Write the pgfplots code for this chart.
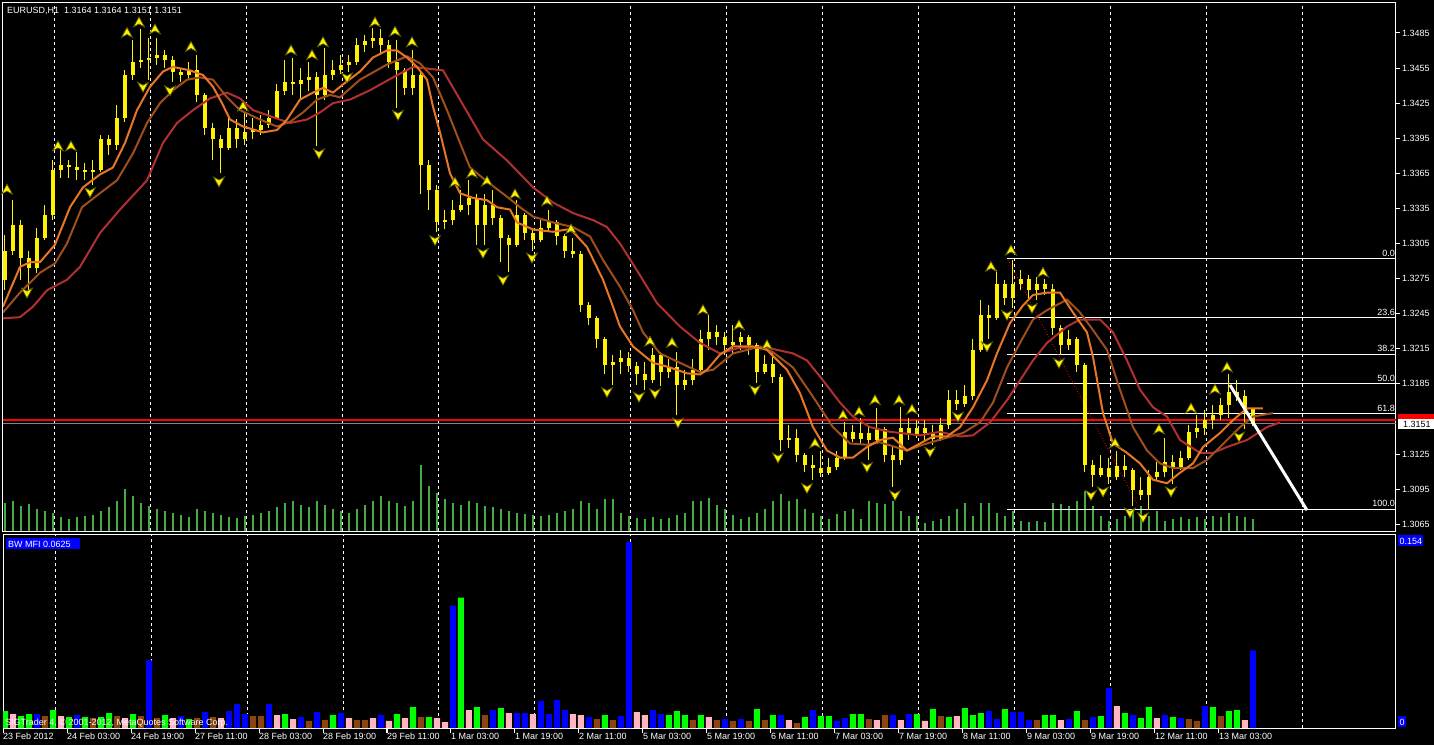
\documentclass[border=0pt]{standalone}
\usepackage{fontspec}
\setmainfont{Liberation Sans}
\usepackage{pgfplots}
\usepackage{pgfplotstable}
\pgfplotsset{compat=1.18}
\definecolor{maorange}{RGB}{232,118,38}
\definecolor{mabrown}{RGB}{160,78,28}
\definecolor{mared}{RGB}{178,48,48}
\definecolor{volgreen}{RGB}{70,170,70}
\definecolor{mfiblue}{RGB}{0,0,255}
\definecolor{mfigreen}{RGB}{0,255,0}
\definecolor{mfibrown}{RGB}{139,69,19}
\definecolor{mfipink}{RGB}{255,182,193}
\definecolor{bidgray}{RGB}{119,136,153}
\definecolor{fracedge}{RGB}{90,90,0}
\newcommand{\lbl}{\fontsize{9}{10}\selectfont}
\pgfdeclareplotmark{fup}{%
  \pgfpathmoveto{\pgfqpoint{0pt}{5.5pt}}%
  \pgfpathlineto{\pgfqpoint{-5.5pt}{-4.5pt}}%
  \pgfpathlineto{\pgfqpoint{0pt}{-1.5pt}}%
  \pgfpathlineto{\pgfqpoint{5.5pt}{-4.5pt}}%
  \pgfpathclose\pgfusepathqfillstroke}
\pgfdeclareplotmark{fdown}{%
  \pgfpathmoveto{\pgfqpoint{0pt}{-5.5pt}}%
  \pgfpathlineto{\pgfqpoint{-5.5pt}{4.5pt}}%
  \pgfpathlineto{\pgfqpoint{0pt}{1.5pt}}%
  \pgfpathlineto{\pgfqpoint{5.5pt}{4.5pt}}%
  \pgfpathclose\pgfusepathqfillstroke}

\pgfplotstableread{
b o h l c
0.5 1.3274 1.3312 1.3265 1.3299
2.5 1.3299 1.3342 1.3295 1.3321
4.5 1.3321 1.3325 1.3274 1.3293
6.5 1.3293 1.3299 1.3264 1.3284
8.5 1.3284 1.3318 1.3280 1.3310
10.5 1.3310 1.3338 1.3308 1.3329
12.5 1.3329 1.3376 1.3325 1.3368
14.5 1.3368 1.3385 1.3361 1.3372
16.5 1.3372 1.3376 1.3361 1.3370
18.5 1.3370 1.3383 1.3359 1.3368
20.5 1.3368 1.3374 1.3359 1.3366
22.5 1.3366 1.3376 1.3355 1.3368
24.5 1.3368 1.3398 1.3366 1.3394
26.5 1.3394 1.3398 1.3381 1.3389
28.5 1.3389 1.3423 1.3385 1.3412
30.5 1.3412 1.3453 1.3409 1.3449
32.5 1.3449 1.3479 1.3445 1.3460
34.5 1.3460 1.3488 1.3455 1.3462
36.5 1.3462 1.3481 1.3445 1.3464
38.5 1.3464 1.3481 1.3458 1.3466
40.5 1.3466 1.3470 1.3455 1.3462
42.5 1.3462 1.3465 1.3443 1.3452
44.5 1.3452 1.3455 1.3443 1.3449
46.5 1.3449 1.3460 1.3445 1.3453
48.5 1.3453 1.3466 1.3426 1.3432
50.5 1.3432 1.3434 1.3398 1.3404
52.5 1.3404 1.3408 1.3376 1.3394
54.5 1.3394 1.3398 1.3365 1.3387
56.5 1.3387 1.3415 1.3385 1.3404
58.5 1.3404 1.3411 1.3387 1.3394
60.5 1.3394 1.3417 1.3389 1.3400
62.5 1.3400 1.3412 1.3394 1.3402
64.5 1.3402 1.3415 1.3398 1.3406
66.5 1.3406 1.3419 1.3404 1.3412
68.5 1.3412 1.3441 1.3411 1.3435
70.5 1.3435 1.3462 1.3432 1.3443
72.5 1.3443 1.3464 1.3432 1.3441
74.5 1.3441 1.3455 1.3428 1.3445
76.5 1.3445 1.3460 1.3435 1.3447
78.5 1.3447 1.3452 1.3388 1.3432
80.5 1.3432 1.3472 1.3428 1.3449
82.5 1.3449 1.3462 1.3445 1.3453
84.5 1.3453 1.3466 1.3450 1.3458
86.5 1.3458 1.3466 1.3452 1.3460
88.5 1.3460 1.3481 1.3458 1.3475
90.5 1.3475 1.3483 1.3469 1.3478
92.5 1.3478 1.3489 1.3472 1.3481
94.5 1.3481 1.3488 1.3466 1.3475
96.5 1.3475 1.3479 1.3455 1.3460
98.5 1.3460 1.3479 1.3421 1.3453
100.5 1.3453 1.3455 1.3432 1.3438
102.5 1.3438 1.3470 1.3432 1.3449
104.5 1.3449 1.3453 1.3347 1.3372
106.5 1.3372 1.3376 1.3334 1.3351
108.5 1.3351 1.3355 1.3315 1.3323
110.5 1.3323 1.3334 1.3317 1.3325
112.5 1.3325 1.3342 1.3321 1.3334
114.5 1.3334 1.3351 1.3332 1.3338
116.5 1.3338 1.3359 1.3329 1.3344
118.5 1.3344 1.3347 1.3304 1.3321
120.5 1.3321 1.3347 1.3304 1.3338
122.5 1.3338 1.3351 1.3321 1.3327
124.5 1.3327 1.3329 1.3289 1.3310
126.5 1.3310 1.3312 1.3281 1.3304
128.5 1.3304 1.3342 1.3302 1.3329
130.5 1.3329 1.3331 1.3308 1.3314
132.5 1.3314 1.3317 1.3299 1.3308
134.5 1.3308 1.3325 1.3306 1.3318
136.5 1.3318 1.3334 1.3315 1.3323
138.5 1.3323 1.3325 1.3304 1.3311
140.5 1.3311 1.3313 1.3293 1.3299
142.5 1.3299 1.3310 1.3293 1.3296
144.5 1.3296 1.3299 1.3246 1.3252
146.5 1.3252 1.3255 1.3235 1.3241
148.5 1.3241 1.3243 1.3216 1.3223
150.5 1.3223 1.3225 1.3193 1.3201
152.5 1.3201 1.3210 1.3184 1.3204
154.5 1.3204 1.3214 1.3193 1.3207
156.5 1.3207 1.3212 1.3195 1.3200
158.5 1.3200 1.3204 1.3184 1.3193
160.5 1.3193 1.3204 1.3180 1.3188
162.5 1.3188 1.3216 1.3186 1.3210
164.5 1.3210 1.3212 1.3183 1.3195
166.5 1.3195 1.3206 1.3190 1.3199
168.5 1.3199 1.3212 1.3158 1.3184
170.5 1.3184 1.3197 1.3180 1.3188
172.5 1.3188 1.3206 1.3184 1.3197
174.5 1.3197 1.3231 1.3195 1.3223
176.5 1.3223 1.3244 1.3214 1.3229
178.5 1.3229 1.3235 1.3218 1.3225
180.5 1.3225 1.3229 1.3210 1.3218
182.5 1.3218 1.3235 1.3210 1.3221
184.5 1.3221 1.3229 1.3214 1.3225
186.5 1.3225 1.3227 1.3210 1.3218
188.5 1.3218 1.3220 1.3186 1.3195
190.5 1.3195 1.3210 1.3193 1.3202
192.5 1.3202 1.3212 1.3186 1.3191
194.5 1.3191 1.3193 1.3128 1.3137
196.5 1.3137 1.3150 1.3130 1.3139
198.5 1.3139 1.3146 1.3118 1.3124
200.5 1.3124 1.3126 1.3110 1.3116
202.5 1.3116 1.3124 1.3103 1.3113
204.5 1.3113 1.3128 1.3105 1.3109
206.5 1.3109 1.3122 1.3107 1.3114
208.5 1.3114 1.3128 1.3111 1.3122
210.5 1.3122 1.3152 1.3120 1.3144
212.5 1.3144 1.3150 1.3135 1.3138
214.5 1.3138 1.3156 1.3133 1.3143
216.5 1.3143 1.3150 1.3120 1.3137
218.5 1.3137 1.3164 1.3135 1.3146
220.5 1.3146 1.3148 1.3118 1.3124
222.5 1.3124 1.3133 1.3097 1.3120
224.5 1.3120 1.3165 1.3116 1.3147
226.5 1.3147 1.3156 1.3137 1.3141
228.5 1.3141 1.3154 1.3139 1.3147
230.5 1.3147 1.3154 1.3137 1.3143
232.5 1.3143 1.3150 1.3133 1.3138
234.5 1.3138 1.3156 1.3136 1.3150
236.5 1.3150 1.3180 1.3146 1.3171
238.5 1.3171 1.3180 1.3163 1.3168
240.5 1.3168 1.3184 1.3165 1.3175
242.5 1.3175 1.3223 1.3171 1.3214
244.5 1.3214 1.3257 1.3212 1.3244
246.5 1.3244 1.3252 1.3223 1.3241
248.5 1.3241 1.3282 1.3240 1.3270
250.5 1.3270 1.3274 1.3252 1.3258
252.5 1.3258 1.3291 1.3250 1.3270
254.5 1.3270 1.3282 1.3265 1.3275
256.5 1.3275 1.3278 1.3258 1.3265
258.5 1.3265 1.3276 1.3257 1.3270
260.5 1.3270 1.3275 1.3261 1.3266
262.5 1.3266 1.3270 1.3227 1.3233
264.5 1.3233 1.3235 1.3210 1.3218
266.5 1.3218 1.3231 1.3214 1.3223
268.5 1.3223 1.3225 1.3195 1.3201
270.5 1.3201 1.3203 1.3110 1.3116
272.5 1.3116 1.3120 1.3097 1.3107
274.5 1.3107 1.3124 1.3105 1.3113
276.5 1.3113 1.3122 1.3099 1.3105
278.5 1.3105 1.3128 1.3103 1.3115
280.5 1.3115 1.3124 1.3105 1.3111
282.5 1.3111 1.3113 1.3081 1.3094
284.5 1.3094 1.3105 1.3086 1.3090
286.5 1.3090 1.3111 1.3077 1.3105
288.5 1.3105 1.3118 1.3103 1.3110
290.5 1.3110 1.3139 1.3105 1.3118
292.5 1.3118 1.3124 1.3099 1.3113
294.5 1.3113 1.3128 1.3111 1.3122
296.5 1.3122 1.3150 1.3120 1.3144
298.5 1.3144 1.3158 1.3139 1.3147
300.5 1.3147 1.3163 1.3141 1.3154
302.5 1.3154 1.3167 1.3146 1.3158
304.5 1.3158 1.3173 1.3154 1.3167
306.5 1.3167 1.3193 1.3156 1.3178
308.5 1.3178 1.3188 1.3170 1.3175
310.5 1.3175 1.3180 1.3146 1.3164
312.5 1.3164 1.3164 1.3149 1.3151
}\candles

\pgfplotstableread{
b v
0.5 280
2.5 300
4.5 250
6.5 270
8.5 220
10.5 200
12.5 180
14.5 140
16.5 120
18.5 140
20.5 150
22.5 160
24.5 200
26.5 240
28.5 300
30.5 420
32.5 350
34.5 280
36.5 250
38.5 220
40.5 200
42.5 180
44.5 160
46.5 140
48.5 220
50.5 200
52.5 180
54.5 160
56.5 140
58.5 130
60.5 150
62.5 160
64.5 180
66.5 200
68.5 240
70.5 280
72.5 300
74.5 260
76.5 240
78.5 300
80.5 260
82.5 220
84.5 200
86.5 180
88.5 220
90.5 260
92.5 300
94.5 350
96.5 300
98.5 280
100.5 250
102.5 300
104.5 660
106.5 450
108.5 380
110.5 320
112.5 280
114.5 260
116.5 300
118.5 280
120.5 250
122.5 240
124.5 220
126.5 200
128.5 180
130.5 170
132.5 160
134.5 150
136.5 160
138.5 180
140.5 200
142.5 220
144.5 300
146.5 280
148.5 220
150.5 320
152.5 320
154.5 180
156.5 150
158.5 130
160.5 120
162.5 140
164.5 120
166.5 130
168.5 160
170.5 180
172.5 300
174.5 300
176.5 330
178.5 260
180.5 220
182.5 160
184.5 120
186.5 140
188.5 180
190.5 220
192.5 300
194.5 370
196.5 300
198.5 320
200.5 220
202.5 180
204.5 150
206.5 120
208.5 170
210.5 200
212.5 220
214.5 120
216.5 300
218.5 280
220.5 270
222.5 300
224.5 200
226.5 150
228.5 150
230.5 80
232.5 100
234.5 120
236.5 150
238.5 220
240.5 280
242.5 150
244.5 280
246.5 280
248.5 180
250.5 150
252.5 200
254.5 100
256.5 90
258.5 100
260.5 90
262.5 280
264.5 270
266.5 250
268.5 300
270.5 400
272.5 250
274.5 150
276.5 100
278.5 120
280.5 150
282.5 200
284.5 250
286.5 150
288.5 200
290.5 100
292.5 120
294.5 140
296.5 120
298.5 140
300.5 120
302.5 150
304.5 140
306.5 180
308.5 150
310.5 140
312.5 120
}\voltab

\begin{document}
\begin{tikzpicture}[x=1pt,y=1pt]
\fill[black] (0pt,0pt) rectangle (1434pt,745pt);

% tick volumes
\begin{axis}[at={(3pt,214pt)}, anchor=south west, scale only axis,
  width=1393pt, height=528pt, xmin=0, xmax=348.25, ymin=0, ymax=5280,
  hide axis, clip=true]
\addplot[ycomb, volgreen, line width=1.2pt, mark=none] table[x=b,y=v]{\voltab};
\end{axis}

% main price panel
\begin{axis}[at={(3pt,214pt)}, anchor=south west, scale only axis,
  width=1393pt, height=528pt, xmin=0, xmax=348.25, ymin=1.30592, ymax=1.35106,
  axis line style={white, line width=1pt},
  xtick=\empty,
  extra x ticks={13,37,...,325}, extra x tick labels={},
  extra x tick style={xmajorgrids=true, major tick length=0pt},
  grid style={white, line width=1pt, dash pattern=on 3pt off 3pt},
  ytick={1.3065,1.3095,1.3125,1.3185,1.3215,1.3245,1.3275,1.3305,1.3335,1.3365,1.3395,1.3425,1.3455,1.3485},
  ytick pos=right, yticklabel pos=right, tick align=outside, major tick length=4pt,
  ytick style={white, line width=1pt},
  scaled y ticks=false,
  yticklabel style={white, font=\lbl, anchor=west, inner sep=0pt, xshift=2pt,
    /pgf/number format/fixed, /pgf/number format/fixed zerofill,
    /pgf/number format/precision=4, /pgf/number format/assume math mode=true},
  clip=true]
% fibonacci levels
\addplot[white, line width=1pt] coordinates {(251,1.32918) (348.25,1.32918)};
\addplot[white, line width=1pt] coordinates {(251,1.32413) (348.25,1.32413)};
\addplot[white, line width=1pt] coordinates {(251,1.32101) (348.25,1.32101)};
\addplot[white, line width=1pt] coordinates {(251,1.31849) (348.25,1.31849)};
\addplot[white, line width=1pt] coordinates {(251,1.31596) (348.25,1.31596)};
\addplot[white, line width=1pt] coordinates {(251,1.30779) (348.25,1.30779)};
\addplot[red, line width=0.8pt, dotted] coordinates {(251.25,1.3291) (283.75,1.3081)};
% ask / bid lines
\addplot[red, line width=1.6pt] coordinates {(0,1.31542) (348.25,1.31542)};
\addplot[bidgray, line width=1pt] coordinates {(0,1.3151) (348.25,1.3151)};
% candles: wicks then bodies
\addplot[draw=none, mark=none, error bars/.cd, y dir=plus, y explicit, error mark=none,
  error bar style={yellow, line width=1pt}]
  table[x=b, y=l, y error expr=\thisrow{h}-\thisrow{l}]{\candles};
\addplot[draw=none, mark=none, error bars/.cd, y dir=plus, y explicit, error mark=none,
  error bar style={yellow, line width=4pt}]
  table[x=b, y expr={min(\thisrow{o},\thisrow{c})},
        y error expr={max(abs(\thisrow{c}-\thisrow{o}),0.0001)}]{\candles};
% moving averages
\addplot[mared, line width=2pt, mark=none] coordinates {
(0,1.3241) (4.25,1.3242) (7.5,1.3251) (11,1.3265) (16,1.3274) (19.25,1.3285) (24.25,1.3314)
(29.25,1.3334) (36,1.3359) (40,1.3391) (43.5,1.3408) (47.5,1.3419) (51.75,1.3429) (56,1.3434)
(59.25,1.3429) (62.5,1.3419) (67.5,1.3413) (71.75,1.3408) (76,1.3411) (79.25,1.3417) (82.5,1.3425)
(86.75,1.3428) (91.75,1.3436) (97.5,1.3447) (102.5,1.3456) (110,1.3453) (114.25,1.3428)
(120,1.3394) (126,1.3376) (132.5,1.3353) (137.5,1.3340) (142.5,1.3331) (147.5,1.3325)
(151,1.3319) (154.25,1.3305) (158.5,1.3282) (163.5,1.3254) (169.25,1.3234) (174.25,1.3220)
(179.25,1.3211) (184.25,1.3216) (191,1.3216) (197.5,1.3211) (201,1.3205) (205,1.3188)
(209.25,1.3169) (212.5,1.3157) (216.75,1.3148) (221.75,1.3144) (229.25,1.3141) (234.25,1.3144)
(239.25,1.3140) (242.5,1.3141) (246.75,1.3152) (251,1.3171) (254.25,1.3188) (257.5,1.3205)
(261,1.3220) (266,1.3234) (269.25,1.3240) (274.25,1.3240) (277.5,1.3229) (281,1.3205)
(284.25,1.3180) (287.5,1.3165) (291,1.3157) (294.25,1.3137) (299.25,1.3126) (302.5,1.3126)
(306,1.3131) (311,1.3137) (316,1.3148) (319.25,1.3152)};
\addplot[mabrown, line width=2pt, mark=none] coordinates {
(0,1.3246) (4.25,1.3263) (9.25,1.3280) (13,1.3288) (16,1.3305) (19.75,1.3336) (24.25,1.3348)
(28.5,1.3359) (32.5,1.3382) (36,1.3408) (39.25,1.3425) (42.5,1.3436) (46,1.3445) (49.25,1.3447)
(52.5,1.3445) (56,1.3430) (59.25,1.3419) (64.25,1.3411) (68.5,1.3405) (71.75,1.3409) (75,1.3417)
(78.5,1.3428) (81.75,1.3432) (84.25,1.3430) (89.25,1.3445) (96,1.3458) (101,1.3465) (104.25,1.3459)
(107.5,1.3447) (111,1.3419) (114.25,1.3391) (116.75,1.3370) (121,1.3358) (126,1.3345)
(129.25,1.3336) (132.5,1.3328) (137.5,1.3323) (142.5,1.3319) (146.75,1.3311) (150,1.3291)
(154.25,1.3268) (157.5,1.3248) (160,1.3229) (164.25,1.3211) (169.25,1.3203) (174.25,1.3195)
(177.5,1.3197) (182.5,1.3211) (186,1.3214) (189.25,1.3217) (192.5,1.3212) (197.5,1.3199)
(202.5,1.3174) (207.5,1.3148) (211.75,1.3134) (216,1.3133) (219.25,1.3135) (226,1.3128)
(230,1.3133) (236,1.3139) (240,1.3143) (244.25,1.3152) (247.5,1.3169) (251,1.3199) (254.25,1.3220)
(257.5,1.3240) (261,1.3248) (266,1.3257) (269.25,1.3246) (272.5,1.3231) (276,1.3214) (279.25,1.3180)
(282.5,1.3148) (286,1.3128) (289.25,1.3117) (292.5,1.3113) (297.5,1.3113) (301,1.3120)
(306,1.3137) (309.25,1.3148) (312.5,1.3157) (317.5,1.3160)};
\addplot[maorange, line width=2pt, mark=none] coordinates {
(0,1.3251) (1.75,1.3265) (4.25,1.3285) (6.75,1.3289) (9.25,1.3289) (13,1.3304) (16.75,1.3336)
(20,1.3353) (24.25,1.3364) (27.5,1.3370) (30.5,1.3391) (33.5,1.3419) (36.75,1.3439) (40,1.3452)
(42.5,1.3456) (46.75,1.3453) (50,1.3449) (52.5,1.3439) (54.75,1.3425) (56.75,1.3411) (60,1.3405)
(65,1.3400) (68.5,1.3402) (71,1.3411) (74.25,1.3428) (77.5,1.3434) (80,1.3438) (82.5,1.3434)
(85,1.3441) (89.25,1.3452) (92.5,1.3464) (96,1.3470) (98.5,1.3470) (101,1.3464) (103.5,1.3456)
(106,1.3445) (107.5,1.3422) (109.25,1.3400) (111.75,1.3365) (114.25,1.3348) (117.5,1.3344)
(121,1.3342) (123.5,1.3336) (126.75,1.3334) (128.5,1.3323) (132.5,1.3317) (137.5,1.3315)
(141,1.3317) (142.5,1.3315) (146,1.3302) (150,1.3274) (152.5,1.3251) (154.25,1.3234)
(157.5,1.3217) (162.5,1.3203) (166.75,1.3199) (171,1.3194) (174.25,1.3193) (176,1.3197)
(179.25,1.3210) (182.5,1.3217) (187.5,1.3217) (191,1.3214) (196,1.3197) (199.25,1.3177)
(202.5,1.3148) (206,1.3128) (209.25,1.3122) (212.5,1.3122) (216,1.3131) (219.25,1.3137)
(222.5,1.3139) (226,1.3128) (229.25,1.3134) (232.5,1.3140) (236,1.3140) (239.25,1.3148)
(242.5,1.3165) (246,1.3188) (248.5,1.3211) (251.75,1.3237) (255,1.3252) (257.5,1.3261)
(261,1.3263) (264.25,1.3263) (267.5,1.3246) (271,1.3229) (272.5,1.3208) (275,1.3160)
(277.5,1.3134) (281,1.3126) (284.25,1.3117) (287.5,1.3103) (291,1.3100) (294.25,1.3109)
(297.5,1.3117) (300,1.3131) (304.25,1.3143) (307.5,1.3154) (311,1.3164) (315,1.3164)};
% fractals
\addplot[only marks, mark=fup, mark options={fill=yellow, draw=fracedge, line width=0.7pt}] coordinates {
(1,1.3351) (13.75,1.3388) (17,1.3388) (31,1.3485) (34,1.3494) (38,1.3488) (47,1.3473) (60,1.3422)
(72,1.3470) (77.25,1.3466) (80,1.3477) (93,1.3494) (98,1.3486) (102.25,1.3477) (113,1.3357)
(117.25,1.3365) (121,1.3358) (128,1.3347) (136,1.3341) (142,1.3317) (161.75,1.3221) (167.25,1.3220)
(175,1.3248) (184,1.3235) (191,1.3218) (203,1.3134) (210,1.3158) (214,1.3161) (218,1.3171)
(224,1.3171) (227.25,1.3163) (247,1.3285) (252,1.3299) (260,1.3280) (278,1.3134) (289,1.3146)
(297,1.3164) (303,1.3180) (306,1.3199)};
\addplot[only marks, mark=fdown, mark options={fill=yellow, draw=fracedge, line width=0.7pt}] coordinates {
(6,1.3263) (21.75,1.3349) (35,1.3439) (41.75,1.3436) (54,1.3358) (79,1.3382) (86,1.3447)
(98.75,1.3415) (108,1.3308) (120,1.3297) (125,1.3274) (132.25,1.3293) (151,1.3178) (159,1.3174)
(163,1.3177) (168.75,1.3152) (188,1.3180) (193.75,1.3122) (201,1.3096) (216,1.3114) (223,1.3090)
(231.75,1.3127) (238.75,1.3157) (246,1.3217) (251,1.3244) (257.25,1.3250) (264,1.3203)
(272,1.3090) (275,1.3093) (281.75,1.3075) (285,1.3071) (292,1.3093) (309,1.3140)};
% trend line
\addplot[white, line width=3pt] coordinates {(306.75,1.3184) (326,1.3077)};
% fibo labels
\node[anchor=base east, inner sep=0pt, text=white, font=\lbl, yshift=2.5pt] at (axis cs:348,1.32918) {0.0};
\node[anchor=base east, inner sep=0pt, text=white, font=\lbl, yshift=2.5pt] at (axis cs:348,1.32413) {23.6};
\node[anchor=base east, inner sep=0pt, text=white, font=\lbl, yshift=2.5pt] at (axis cs:348,1.32101) {38.2};
\node[anchor=base east, inner sep=0pt, text=white, font=\lbl, yshift=2.5pt] at (axis cs:348,1.31849) {50.0};
\node[anchor=base east, inner sep=0pt, text=white, font=\lbl, yshift=2.5pt] at (axis cs:348,1.31596) {61.8};
\node[anchor=base east, inner sep=0pt, text=white, font=\lbl, yshift=2.5pt] at (axis cs:348,1.30779) {100.0};
\end{axis}

% BW MFI panel
\begin{axis}[at={(3pt,17pt)}, anchor=south west, scale only axis,
  width=1393pt, height=194pt, xmin=0, xmax=348.25, ymin=0, ymax=0.1606,
  axis line style={white, line width=1pt},
  ytick=\empty,
  xtick={0,16,...,304},
  xticklabels={23 Feb 2012, 24 Feb 03:00, 24 Feb 19:00, 27 Feb 11:00, 28 Feb 03:00, 28 Feb 19:00,
    29 Feb 11:00, 1 Mar 03:00, 1 Mar 19:00, 2 Mar 11:00, 5 Mar 03:00, 5 Mar 19:00, 6 Mar 11:00,
    7 Mar 03:00, 7 Mar 19:00, 8 Mar 11:00, 9 Mar 03:00, 9 Mar 19:00, 12 Mar 11:00, 13 Mar 03:00},
  xtick pos=bottom, tick align=outside, major tick length=5pt,
  xtick style={white, line width=1pt},
  xticklabel style={white, font=\lbl, anchor=north west, inner sep=0pt},
  extra x ticks={13,37,...,325}, extra x tick labels={},
  extra x tick style={xmajorgrids=true, major tick length=0pt},
  grid style={white, line width=1pt, dash pattern=on 3pt off 3pt},
  ybar, bar width=6pt, bar shift=0pt, clip=true]
\addplot[fill=mfigreen, draw=none] coordinates {
(0.5,0.0140) (4.5,0.0099) (6.5,0.0115) (12.5,0.0148) (16.5,0.0091) (20.5,0.0091) (24.5,0.0091)
(26.5,0.0124) (32.5,0.0115) (40.5,0.0107) (46.5,0.0074) (70.5,0.0115) (82.5,0.0107) (98.5,0.0115)
(102.5,0.0173) (106.5,0.0091) (114.5,0.1079) (118.5,0.0173) (124.5,0.0165) (150.5,0.0107)
(166.5,0.0107) (168.5,0.0140) (170.5,0.0107) (174.5,0.0107) (188.5,0.0157) (192.5,0.0107)
(200.5,0.0091) (204.5,0.0099) (206.5,0.0099) (212.5,0.0115) (214.5,0.0115) (228.5,0.0115)
(232.5,0.0157) (236.5,0.0091) (240.5,0.0165) (242.5,0.0107) (244.5,0.0124) (250.5,0.0157)
(260.5,0.0107) (262.5,0.0107) (268.5,0.0140) (274.5,0.0099) (280.5,0.0124) (284.5,0.0082)
(286.5,0.0173) (292.5,0.0091) (302.5,0.0173) (306.5,0.0140) (308.5,0.0148)};
\addplot[fill=mfiblue, draw=none] coordinates {
(8.5,0.0115) (18.5,0.0107) (36.5,0.0560) (44.5,0.0099) (50.5,0.0132) (56.5,0.0140) (58.5,0.0198)
(60.5,0.0115) (66.5,0.0198) (74.5,0.0091) (78.5,0.0132) (84.5,0.0124) (94.5,0.0107) (112.5,0.1013)
(122.5,0.0148) (128.5,0.0124) (130.5,0.0124) (134.5,0.0222) (136.5,0.0115) (138.5,0.0231)
(140.5,0.0148) (146.5,0.0091) (154.5,0.0099) (156.5,0.1540) (162.5,0.0148) (164.5,0.0115)
(180.5,0.0074) (184.5,0.0074) (194.5,0.0107) (202.5,0.0148) (208.5,0.0058) (210.5,0.0082)
(222.5,0.0107) (226.5,0.0115) (246.5,0.0140) (248.5,0.0074) (252.5,0.0132) (254.5,0.0132)
(256.5,0.0066) (266.5,0.0074) (272.5,0.0091) (276.5,0.0330) (282.5,0.0107) (290.5,0.0107)
(294.5,0.0082) (300.5,0.0181) (312.5,0.0643)};
\addplot[fill=mfibrown, draw=none] coordinates {
(10.5,0.0099) (22.5,0.0082) (28.5,0.0099) (34.5,0.0099) (38.5,0.0082) (48.5,0.0082) (52.5,0.0091)
(62.5,0.0099) (64.5,0.0099) (76.5,0.0058) (80.5,0.0066) (88.5,0.0066) (90.5,0.0066) (104.5,0.0091)
(120.5,0.0107) (148.5,0.0074) (152.5,0.0066) (172.5,0.0066) (178.5,0.0066) (182.5,0.0058)
(186.5,0.0058) (190.5,0.0066) (198.5,0.0041) (216.5,0.0074) (220.5,0.0107) (234.5,0.0099)
(258.5,0.0066) (270.5,0.0066) (296.5,0.0074) (298.5,0.0058) (304.5,0.0099)};
\addplot[fill=mfipink, draw=none] coordinates {
(2.5,0.0115) (14.5,0.0099) (30.5,0.0082) (42.5,0.0082) (54.5,0.0082) (68.5,0.0107) (72.5,0.0074)
(86.5,0.0082) (92.5,0.0082) (96.5,0.0058) (100.5,0.0082) (108.5,0.0082) (110.5,0.0049)
(116.5,0.0148) (126.5,0.0124) (132.5,0.0115) (142.5,0.0115) (144.5,0.0107) (158.5,0.0132)
(160.5,0.0107) (176.5,0.0091) (196.5,0.0066) (218.5,0.0066) (224.5,0.0066) (230.5,0.0058)
(238.5,0.0099) (264.5,0.0066) (278.5,0.0181) (288.5,0.0082) (310.5,0.0066)};
\end{axis}

% texts and labels
\node[anchor=base west, inner sep=0pt, text=white, font=\lbl] at (7pt,731pt) {EURUSD,H1\ \ 1.3164 1.3164 1.3151 1.3151};
\fill[blue] (6pt,196pt) rectangle (80pt,207pt);
\node[anchor=base west, inner sep=0pt, text=white, font=\lbl] at (8pt,198pt) {BW MFI 0.0625};
\node[anchor=base west, inner sep=0pt, text=white, font=\lbl] at (5pt,20pt) {SIGTrader 4, © 2001-2012, MetaQuotes Software Corp.};
\fill[red] (1398pt,326pt) rectangle (1434pt,331pt);
\fill[white] (1398pt,316pt) rectangle (1434pt,326pt);
\node[anchor=base west, inner sep=0pt, text=black, font=\lbl] at (1403pt,317.5pt) {1.3151};
\fill[blue] (1398pt,199pt) rectangle (1423pt,210pt);
\node[anchor=base west, inner sep=0pt, text=white, font=\lbl] at (1399.5pt,201pt) {0.154};
\fill[blue] (1398pt,18pt) rectangle (1406pt,29pt);
\node[anchor=base west, inner sep=0pt, text=white, font=\lbl] at (1399.5pt,20pt) {0};
\end{tikzpicture}
\end{document}
